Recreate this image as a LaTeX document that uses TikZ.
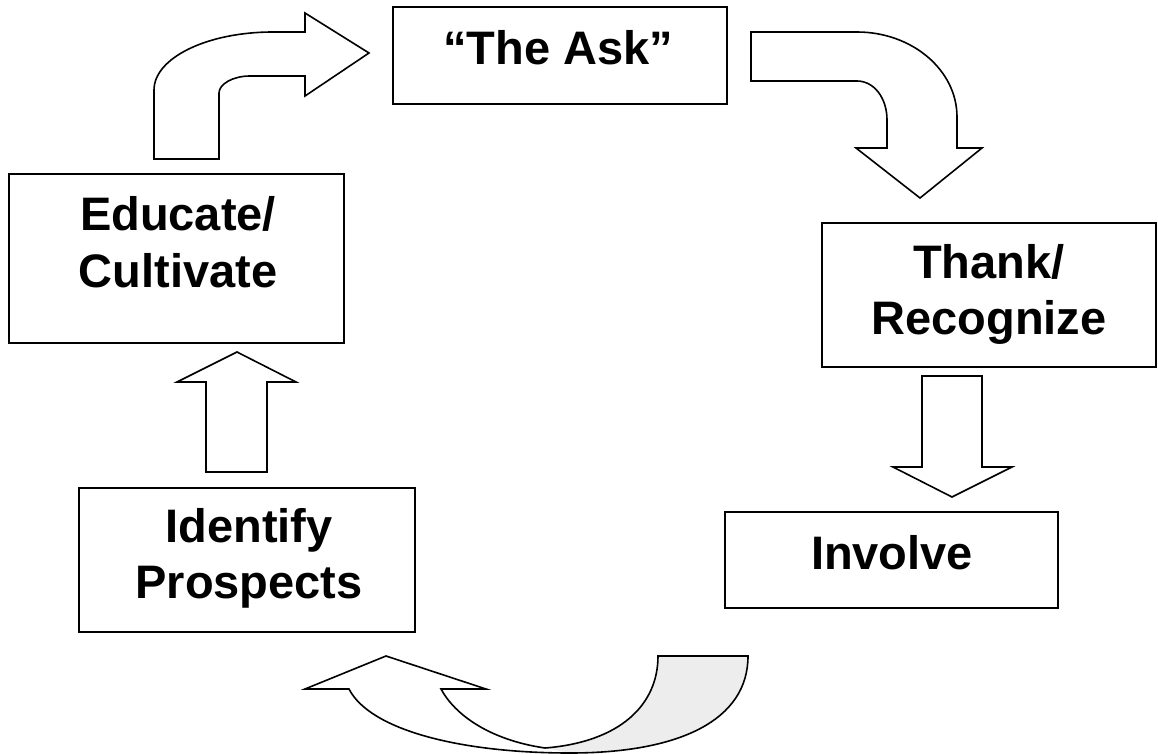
\documentclass[tikz,border=0pt]{standalone}
\usepackage{fontspec}
\setmainfont{Liberation Sans}
\begin{document}
\begin{tikzpicture}[x=1pt,y=-1pt,
  box/.style={draw=black, line width=1.6pt, rectangle, inner sep=0pt, fill=white},
  lbl/.style={inner sep=0pt, anchor=base, font=\fontsize{47}{56}\selectfont\bfseries},
  blockarrow/.style={draw=black, line width=1.6pt, fill=white, line join=miter}]
\useasboundingbox[fill=white] (0,0) rectangle (1158,754);

% boxes
\node[box, minimum width=334pt, minimum height=97pt] (ask) at (560,55.5) {};
\node[box, minimum width=335pt, minimum height=169pt] (edu) at (176.5,258.5) {};
\node[box, minimum width=336pt, minimum height=144pt] (ident) at (247,560) {};
\node[box, minimum width=334pt, minimum height=144pt] (thank) at (989,295) {};
\node[box, minimum width=333pt, minimum height=96pt] (inv) at (891.5,560) {};

% labels
\node[lbl] (askL) at (558,65) {“The Ask”};
\node[lbl] (eduL1) at (178,230) {Educate/};
\node[lbl] (eduL2) at (178,287) {Cultivate};
\node[lbl] (idL1) at (249,542) {Identify};
\node[lbl] (idL2) at (249,598) {Prospects};
\node[lbl] (thL1) at (989,278) {Thank/};
\node[lbl] (thL2) at (989,334) {Recognize};
\node[lbl] (invL) at (892,569) {Involve};

% bent arrow: Educate -> The Ask
\draw[blockarrow] (154,159) -- (154,90)
  .. controls (154,58) and (207,32) .. (273,32)
  -- (305,32) -- (305,13) -- (369,53) -- (305,96) -- (305,76) -- (250,76)
  .. controls (233,76) and (219,84) .. (219,93)
  -- (219,159) -- cycle;

% bent arrow: The Ask -> Thank
\draw[blockarrow] (751,32) -- (857,32)
  .. controls (912,32) and (957,70) .. (957,117)
  -- (957,148) -- (982,148) -- (920,198) -- (856,148) -- (887,148) -- (887,120)
  .. controls (887,98) and (874,81) .. (857,81)
  -- (751,81) -- cycle;

% down arrow: Thank -> Involve
\draw[blockarrow] (922,376) -- (982,376) -- (982,467) -- (1012,467) -- (952,497)
  -- (893,467) -- (922,467) -- cycle;

% up arrow: Identify -> Educate
\draw[blockarrow] (206,472) -- (206,382) -- (177,382) -- (237,352) -- (296,382)
  -- (267,382) -- (267,472) -- cycle;

% U-turn arrow: Involve -> Identify
\fill[white] (658,656) -- (748,656)
  .. controls (748,720) and (680,753) .. (570,753)
  .. controls (460,753) and (370,730) .. (349,689)
  -- (305,689) -- (386,656) -- (486,689) -- (441,689)
  .. controls (455,715) and (490,740) .. (545,748)
  .. controls (620,742) and (658,705) .. (658,656) -- cycle;
\fill[black!7] (658,656) -- (748,656)
  .. controls (748,720) and (680,753) .. (570,753)
  -- (545,748)
  .. controls (620,742) and (658,705) .. (658,656) -- cycle;
\draw[blockarrow, fill=none] (658,656) -- (748,656)
  .. controls (748,720) and (680,753) .. (570,753)
  .. controls (460,753) and (370,730) .. (349,689)
  -- (305,689) -- (386,656) -- (486,689) -- (441,689)
  .. controls (455,715) and (490,740) .. (545,748)
  .. controls (620,742) and (658,705) .. (658,656) -- cycle;
\end{tikzpicture}
\end{document}
